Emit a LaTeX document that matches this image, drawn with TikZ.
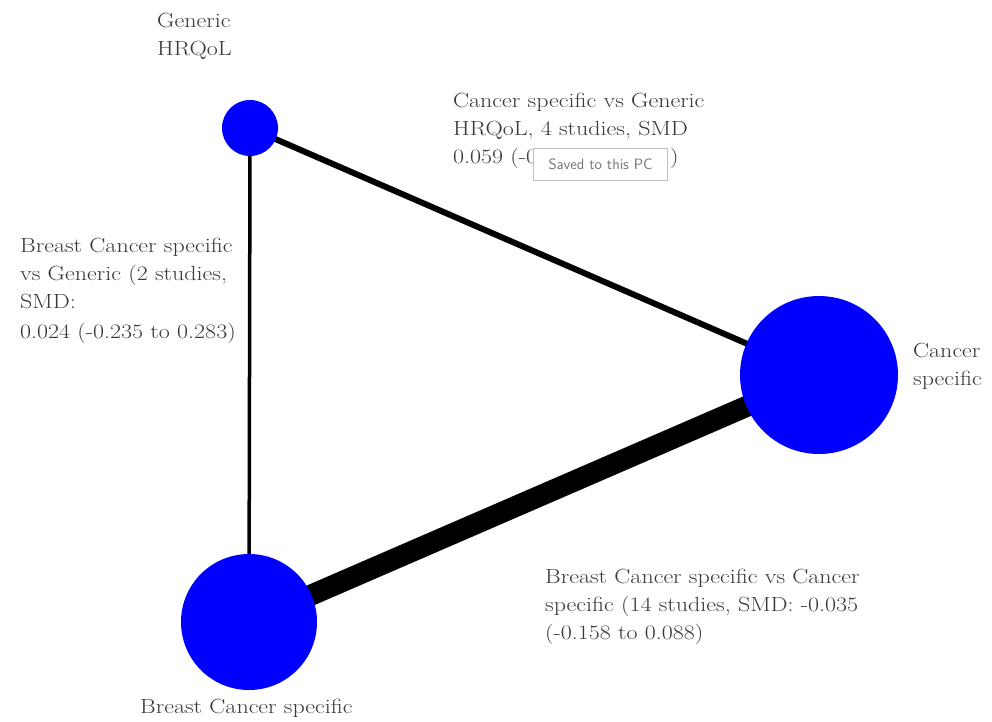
\documentclass[tikz,border=0pt]{standalone}
\usepackage{fontspec}
\setmainfont{Latin Modern Roman}[FakeStretch=1.17]
\usetikzlibrary{backgrounds}
\begin{document}
\begin{tikzpicture}[x=1pt,y=-1pt,
  lbl/.style={anchor=base west, inner sep=0, text=black!78, font=\fontsize{20.5}{28}\selectfont},
  nd/.style={circle, fill=blue, inner sep=0},
  edge/.style={draw=black, line cap=butt}]
\useasboundingbox (0,0) rectangle (992,721);
\node[nd, minimum size=56] (gen) at (250,128) {};
\node[nd, minimum size=158] (can) at (819,375) {};
\node[nd, minimum size=136] (bre) at (249,622) {};
\begin{scope}[on background layer]
\fill[white] (0,0) rectangle (992,721);
\draw[edge, line width=6] (gen.center) -- (can.center);
\draw[edge, line width=3.5] (gen.center) -- (bre.center);
\draw[edge, line width=21] (bre.center) -- (can.center);
\end{scope}
\node[lbl] (lgen) at (157,27) {\begin{tabular}[t]{@{}l@{}}Generic\\HRQoL\end{tabular}};
\node[lbl] (lcan) at (913,357) {\begin{tabular}[t]{@{}l@{}}Cancer\\specific\end{tabular}};
\node[lbl] (lbre) at (140,713) {Breast Cancer specific};
\node[lbl] (lgc) at (453,107) {\begin{tabular}[t]{@{}l@{}}Cancer specific vs Generic\\HRQoL, 4 studies, SMD\\0.059 (-0\end{tabular}};
\node[lbl] (lgb) at (20,252) {\begin{tabular}[t]{@{}l@{}}Breast Cancer specific\\vs Generic (2 studies,\\SMD:\\[2pt]0.024 (-0.235 to 0.283)\end{tabular}};
\node[lbl] (lbc) at (545,583) {\begin{tabular}[t]{@{}l@{}}Breast Cancer specific vs Cancer\\specific (14 studies, SMD: -0.035\\(-0.158 to 0.088)\end{tabular}};
\node[draw=black!25, fill=white, line width=1, minimum width=134, minimum height=32, inner sep=0, font=\sffamily\fontsize{15}{17}\selectfont, text=black!55, anchor=north west] (tip) at (533,148) {Saved to this PC};
\node[lbl, anchor=base west] (par) at (670,163) {)};
\end{tikzpicture}
\end{document}
